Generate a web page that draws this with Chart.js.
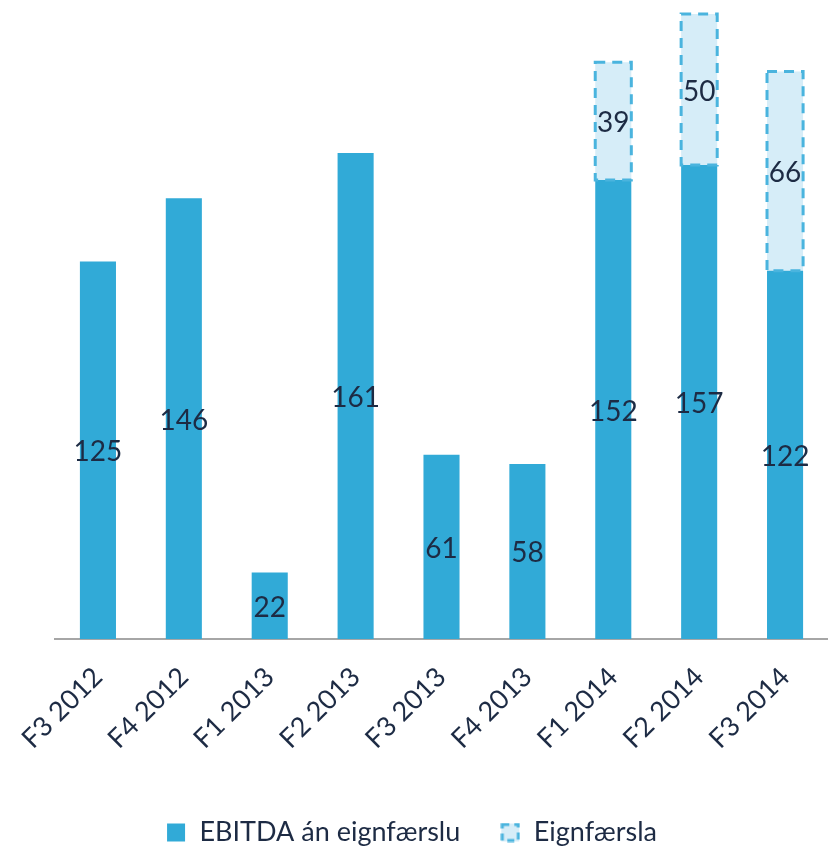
<!DOCTYPE html>
<html><head><meta charset="utf-8">
<script src="https://cdn.jsdelivr.net/npm/chart.js@4"></script>
<style>html,body{margin:0;padding:0;background:#fff}#wrap{width:828px;height:848px}</style>
</head><body><div id="wrap"><canvas id="c" width="828" height="848"></canvas></div>
<script>
const categories = ["F3 2012","F4 2012","F1 2013","F2 2013","F3 2013","F4 2013","F1 2014","F2 2014","F3 2014"];
const ebitda = [125,146,22,161,61,58,152,157,122];
const eignfaersla = [null,null,null,null,null,null,39,50,66];
const seriesNames = ["EBITDA án eignfærslu","Eignfærsla"];

const TXT = '#1d2b44';
const BLUE = '#31aad7';
const LIGHT = '#d6edf8';
const DASH = '#4ab4de';
const FONT = 'Lato, "Open Sans", sans-serif';

function icon(kind){
  const c=document.createElement('canvas'); c.width=20; c.height=20;
  const x=c.getContext('2d');
  if(kind===0){ x.fillStyle=BLUE; x.fillRect(1,1,18,18); }
  else { x.fillStyle=LIGHT; x.fillRect(1,1,18,18); x.strokeStyle=DASH; x.lineWidth=3; x.setLineDash([7,5]); x.strokeRect(2,2,16,16); }
  return c;
}

const labelPlugin = {
  id:'vals',
  afterLayout(chart){
    if(chart.legend){ chart.legend.left -= 30; chart.legend.right -= 30; }
  },
  afterDatasetsDraw(chart){
    const ctx=chart.ctx;
    const m1=chart.getDatasetMeta(1);
    ctx.save();
    ctx.strokeStyle=DASH; ctx.lineWidth=3; ctx.setLineDash([10,7]);
    m1.data.forEach((el,i)=>{
      if(eignfaersla[i]==null) return;
      const p=el.getProps(['x','y','base','width'],true);
      ctx.strokeRect(p.x-p.width/2, p.y, p.width, p.base-p.y);
    });
    ctx.restore();
    ctx.save();
    ctx.fillStyle=TXT; ctx.font='28px '+FONT; ctx.textAlign='center'; ctx.textBaseline='middle';
    chart.data.datasets.forEach((ds,di)=>{
      const meta=chart.getDatasetMeta(di);
      meta.data.forEach((el,i)=>{
        const v=ds.data[i]; if(v==null) return;
        const p=el.getProps(['x','y','base'],true);
        ctx.fillText(String(v), p.x, (p.y+p.base)/2+2);
      });
    });
    ctx.restore();
  }
};

new Chart(document.getElementById('c'),{
  type:'bar',
  data:{labels:categories,datasets:[
    {label:seriesNames[0],data:ebitda,backgroundColor:BLUE,borderWidth:0,pointStyle:icon(0),categoryPercentage:1,barPercentage:0.42},
    {label:seriesNames[1],data:eignfaersla,backgroundColor:LIGHT,borderWidth:0,pointStyle:icon(1),categoryPercentage:1,barPercentage:0.42}
  ]},
  options:{
    responsive:false,animation:false,
    layout:{padding:{left:55,right:0,top:5,bottom:-8}},
    scales:{
      x:{stacked:true,grid:{display:false},border:{display:true,color:'#a6a6a6',width:2},
         afterFit(s){ s.height=140; },
         ticks:{color:TXT,font:{family:FONT,size:27},maxRotation:45,minRotation:45,padding:14}},
      y:{stacked:true,display:false,min:0,max:210}
    },
    plugins:{
      legend:{position:'bottom',labels:{usePointStyle:true,color:TXT,font:{family:FONT,size:27},padding:40,boxWidth:20,boxHeight:20}},
      tooltip:{enabled:false}
    }
  },
  plugins:[labelPlugin]
});
</script></body></html>
